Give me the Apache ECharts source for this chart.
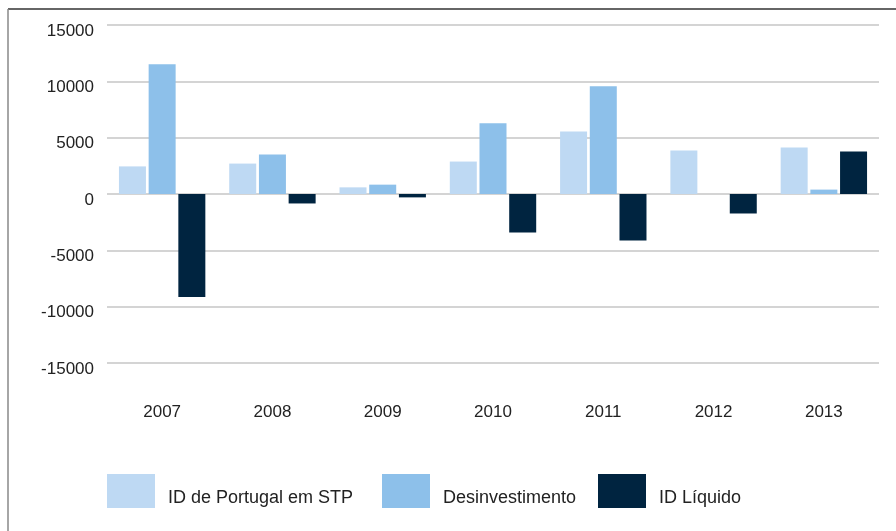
<!DOCTYPE html>
<html>
<head>
<meta charset="utf-8">
<script src="https://cdn.jsdelivr.net/npm/echarts@6/dist/echarts.min.js"></script>
<style>
  html, body { margin: 0; padding: 0; background: #fff; }
  #chart { width: 896px; height: 531px; }
</style>
</head>
<body>
<div id="chart"></div>
<script>
// 年份
const years = ['2007', '2008', '2009', '2010', '2011', '2012', '2013']
// ID de Portugal em STP
const idPortugal = [2450, 2700, 590, 2880, 5550, 3860, 4130]
// Desinvestimento
const desinvestimento = [11520, 3500, 830, 6270, 9560, 0, 390]
// ID Líquido
const idLiquido = [-9150, -840, -300, -3420, -4130, -1730, 3770]

const seriesNames = ['ID de Portugal em STP', 'Desinvestimento', 'ID Líquido']
const colors = ['#bed9f3', '#8dc0ea', '#002440']
// 图例起点
const legendLefts = [107, 382, 598]

const chart = echarts.init(document.getElementById('chart'))

// 每个图例单独放置
const legends = seriesNames.map((name, i) => ({
  left: legendLefts[i],
  top: 474,
  padding: 0,
  itemWidth: 48,
  itemHeight: 34,
  icon: 'rect',
  formatter: '{t|{name}}',
  textStyle: {
    rich: {
      t: { fontSize: 18, color: '#222', padding: [14, 0, 0, 8] }
    }
  },
  data: [name]
}))

const option = {
  animation: false,
  color: colors,
  textStyle: { fontFamily: 'Liberation Sans, Arial, sans-serif' },
  grid: {
    left: 107,
    right: 17,
    top: 25,
    bottom: 168
  },
  legend: legends,
  xAxis: {
    type: 'category',
    data: years,
    position: 'bottom',
    axisLine: { show: false, onZero: false },
    axisTick: { show: false },
    axisLabel: {
      fontSize: 17,
      color: '#222',
      margin: 41
    }
  },
  yAxis: {
    type: 'value',
    min: -15000,
    max: 15000,
    interval: 5000,
    axisLine: { show: false },
    axisTick: { show: false },
    axisLabel: {
      fontSize: 17,
      color: '#222',
      margin: 13,
      verticalAlign: 'top',
      lineHeight: 12,
      formatter: (v) => String(v)
    },
    splitLine: {
      lineStyle: { color: '#c6c6c6', width: 1.5 }
    }
  },
  graphic: [
    { type: 'line', shape: { x1: 8, y1: 9, x2: 896, y2: 9 }, style: { stroke: '#333', lineWidth: 1.5 } },
    { type: 'line', shape: { x1: 8, y1: 9, x2: 8, y2: 531 }, style: { stroke: '#888', lineWidth: 1.5 } }
  ],
  series: [
    { name: seriesNames[0], type: 'bar', data: idPortugal, barWidth: 27, barGap: '10%' },
    { name: seriesNames[1], type: 'bar', data: desinvestimento, barWidth: 27, barGap: '10%' },
    { name: seriesNames[2], type: 'bar', data: idLiquido, barWidth: 27, barGap: '10%' }
  ]
}

chart.setOption(option)
</script>
</body>
</html>
